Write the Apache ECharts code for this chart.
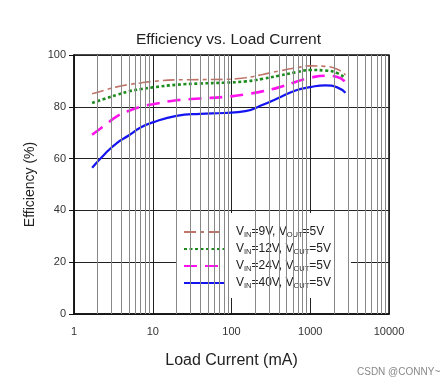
<!DOCTYPE html>
<html><head><meta charset="utf-8">
<script src="https://cdn.jsdelivr.net/npm/echarts@6/dist/echarts.min.js"></script>
<style>html,body{margin:0;padding:0;background:#fff}#c{width:448px;height:388px}</style>
</head><body><div id="c"></div>
<script>
var loadCurrent = [1.7, 2.5, 3.5, 5, 7, 10, 20, 40, 80, 150, 250, 400, 650, 1000, 1550, 2200, 2800];
var eff9V  = [85.0, 86.5, 87.7, 88.6, 89.2, 89.8, 90.4, 90.5, 90.6, 91.2, 92.5, 93.8, 95.0, 95.8, 95.6, 94.5, 92.3];
var eff12V = [81.5, 83.2, 84.6, 86.0, 86.8, 87.5, 88.5, 89.0, 89.3, 89.8, 90.8, 92.0, 93.3, 94.2, 94.0, 93.0, 91.0];
var eff24V = [69.2, 73.0, 76.3, 78.5, 80.0, 81.0, 82.5, 83.2, 83.8, 84.8, 86.0, 87.5, 89.6, 91.2, 92.0, 91.5, 89.6];
var eff40V = [56.5, 62.0, 66.0, 69.0, 72.0, 74.0, 76.5, 77.3, 77.6, 78.3, 80.8, 83.5, 86.3, 87.6, 88.3, 87.5, 85.4];
var seriesNames = ['9V', '12V', '24V', '40V'];
var yTicks = [0, 20, 40, 60, 80, 100];
var xTicks = [1, 10, 100, 1000, 10000];

var minorX = [];
[1, 10, 100, 1000].forEach(function (d) { for (var m = 2; m <= 9; m++) minorX.push(m * d); });

function pairs(ys) { return loadCurrent.map(function (x, i) { return [x, ys[i]]; }); }

var chart = echarts.init(document.getElementById('c'), null, {renderer: 'canvas'});
chart.setOption({
  animation: false,
  backgroundColor: '#fff',
  textStyle: {fontFamily: 'Liberation Sans, Arial, sans-serif'},
  title: {
    text: 'Efficiency vs. Load Current', left: 131, top: 27,
    textStyle: {fontSize: 15.5, fontWeight: 'normal', color: '#222', fontFamily: 'Liberation Sans, Arial, sans-serif'}
  },
  grid: {left: 74, right: 59, top: 55, bottom: 74, show: true, borderColor: '#111', borderWidth: 1.5, backgroundColor: 'transparent'},
  xAxis: {
    type: 'log', logBase: 10, min: xTicks[0], max: xTicks[xTicks.length - 1],
    name: 'Load Current (mA)', nameLocation: 'middle', nameGap: 39,
    nameTextStyle: {fontSize: 16, color: '#222'},
    axisLine: {lineStyle: {color: '#111', width: 1.5}},
    axisTick: {show: false},
    axisLabel: {fontSize: 11, color: '#333', margin: 12, formatter: function (v) { return String(Math.round(v)); }},
    splitLine: {show: true, lineStyle: {color: '#222', width: 1}}
  },
  yAxis: {
    type: 'value', min: yTicks[0], max: yTicks[yTicks.length - 1], interval: 20,
    name: 'Efficiency (%)', nameLocation: 'middle', nameGap: 36,
    nameTextStyle: {fontSize: 14, color: '#222'},
    axisLine: {show: true, lineStyle: {color: '#111', width: 1.5}},
    axisTick: {show: true, inside: false, length: 5, lineStyle: {color: '#111'}},
    axisLabel: {fontSize: 11, color: '#333', margin: 8},
    splitLine: {show: true, lineStyle: {color: '#222', width: 1}}
  },
  legend: {
    data: seriesNames, orient: 'vertical', left: 177, top: 213,
    padding: [12, 20, 8, 6], itemGap: 3, itemWidth: 40, itemHeight: 12,
    backgroundColor: '#fff',
    itemStyle: {opacity: 0},
    formatter: function (n) { return 'V{s|IN}=' + n + ', V{s|OUT}=5V'; },
    textStyle: {
      fontSize: 12, color: '#222', padding: [0, 0, 0, 7], lineHeight: 14,
      rich: {s: {fontSize: 7.5, verticalAlign: 'bottom', lineHeight: 12, color: '#222'}}
    }
  },
  graphic: [{
    type: 'text', left: 357, top: 367,
    style: {text: 'CSDN @CONNY~', fontSize: 10, fill: '#888', fontFamily: 'Liberation Sans, Arial, sans-serif'}
  }],
  series: [
    {
      name: 'grid-minor', type: 'line', data: [], z: 1, silent: true,
      markLine: {
        silent: true, symbol: 'none', label: {show: false},
        lineStyle: {color: '#888', width: 1, type: 'solid'},
        data: minorX.map(function (v) { return {xAxis: v}; })
      }
    },
    {name: '9V', type: 'line', smooth: true, symbol: 'none', z: 3, data: pairs(eff9V),
     color: '#c07468', lineStyle: {color: '#c07468', width: 1.6, type: [12, 4, 4, 4]}},
    {name: '12V', type: 'line', smooth: true, symbol: 'none', z: 3, data: pairs(eff12V),
     color: '#1e8c1e', lineStyle: {color: '#1e8c1e', width: 2.6, type: [3, 2.5]}},
    {name: '24V', type: 'line', smooth: true, symbol: 'none', z: 3, data: pairs(eff24V),
     color: '#ff12ee', lineStyle: {color: '#ff12ee', width: 2.6, type: [13, 8]}},
    {name: '40V', type: 'line', smooth: true, symbol: 'none', z: 3, data: pairs(eff40V),
     color: '#1414f0', lineStyle: {color: '#1414f0', width: 2.2}}
  ]
});
</script></body></html>
